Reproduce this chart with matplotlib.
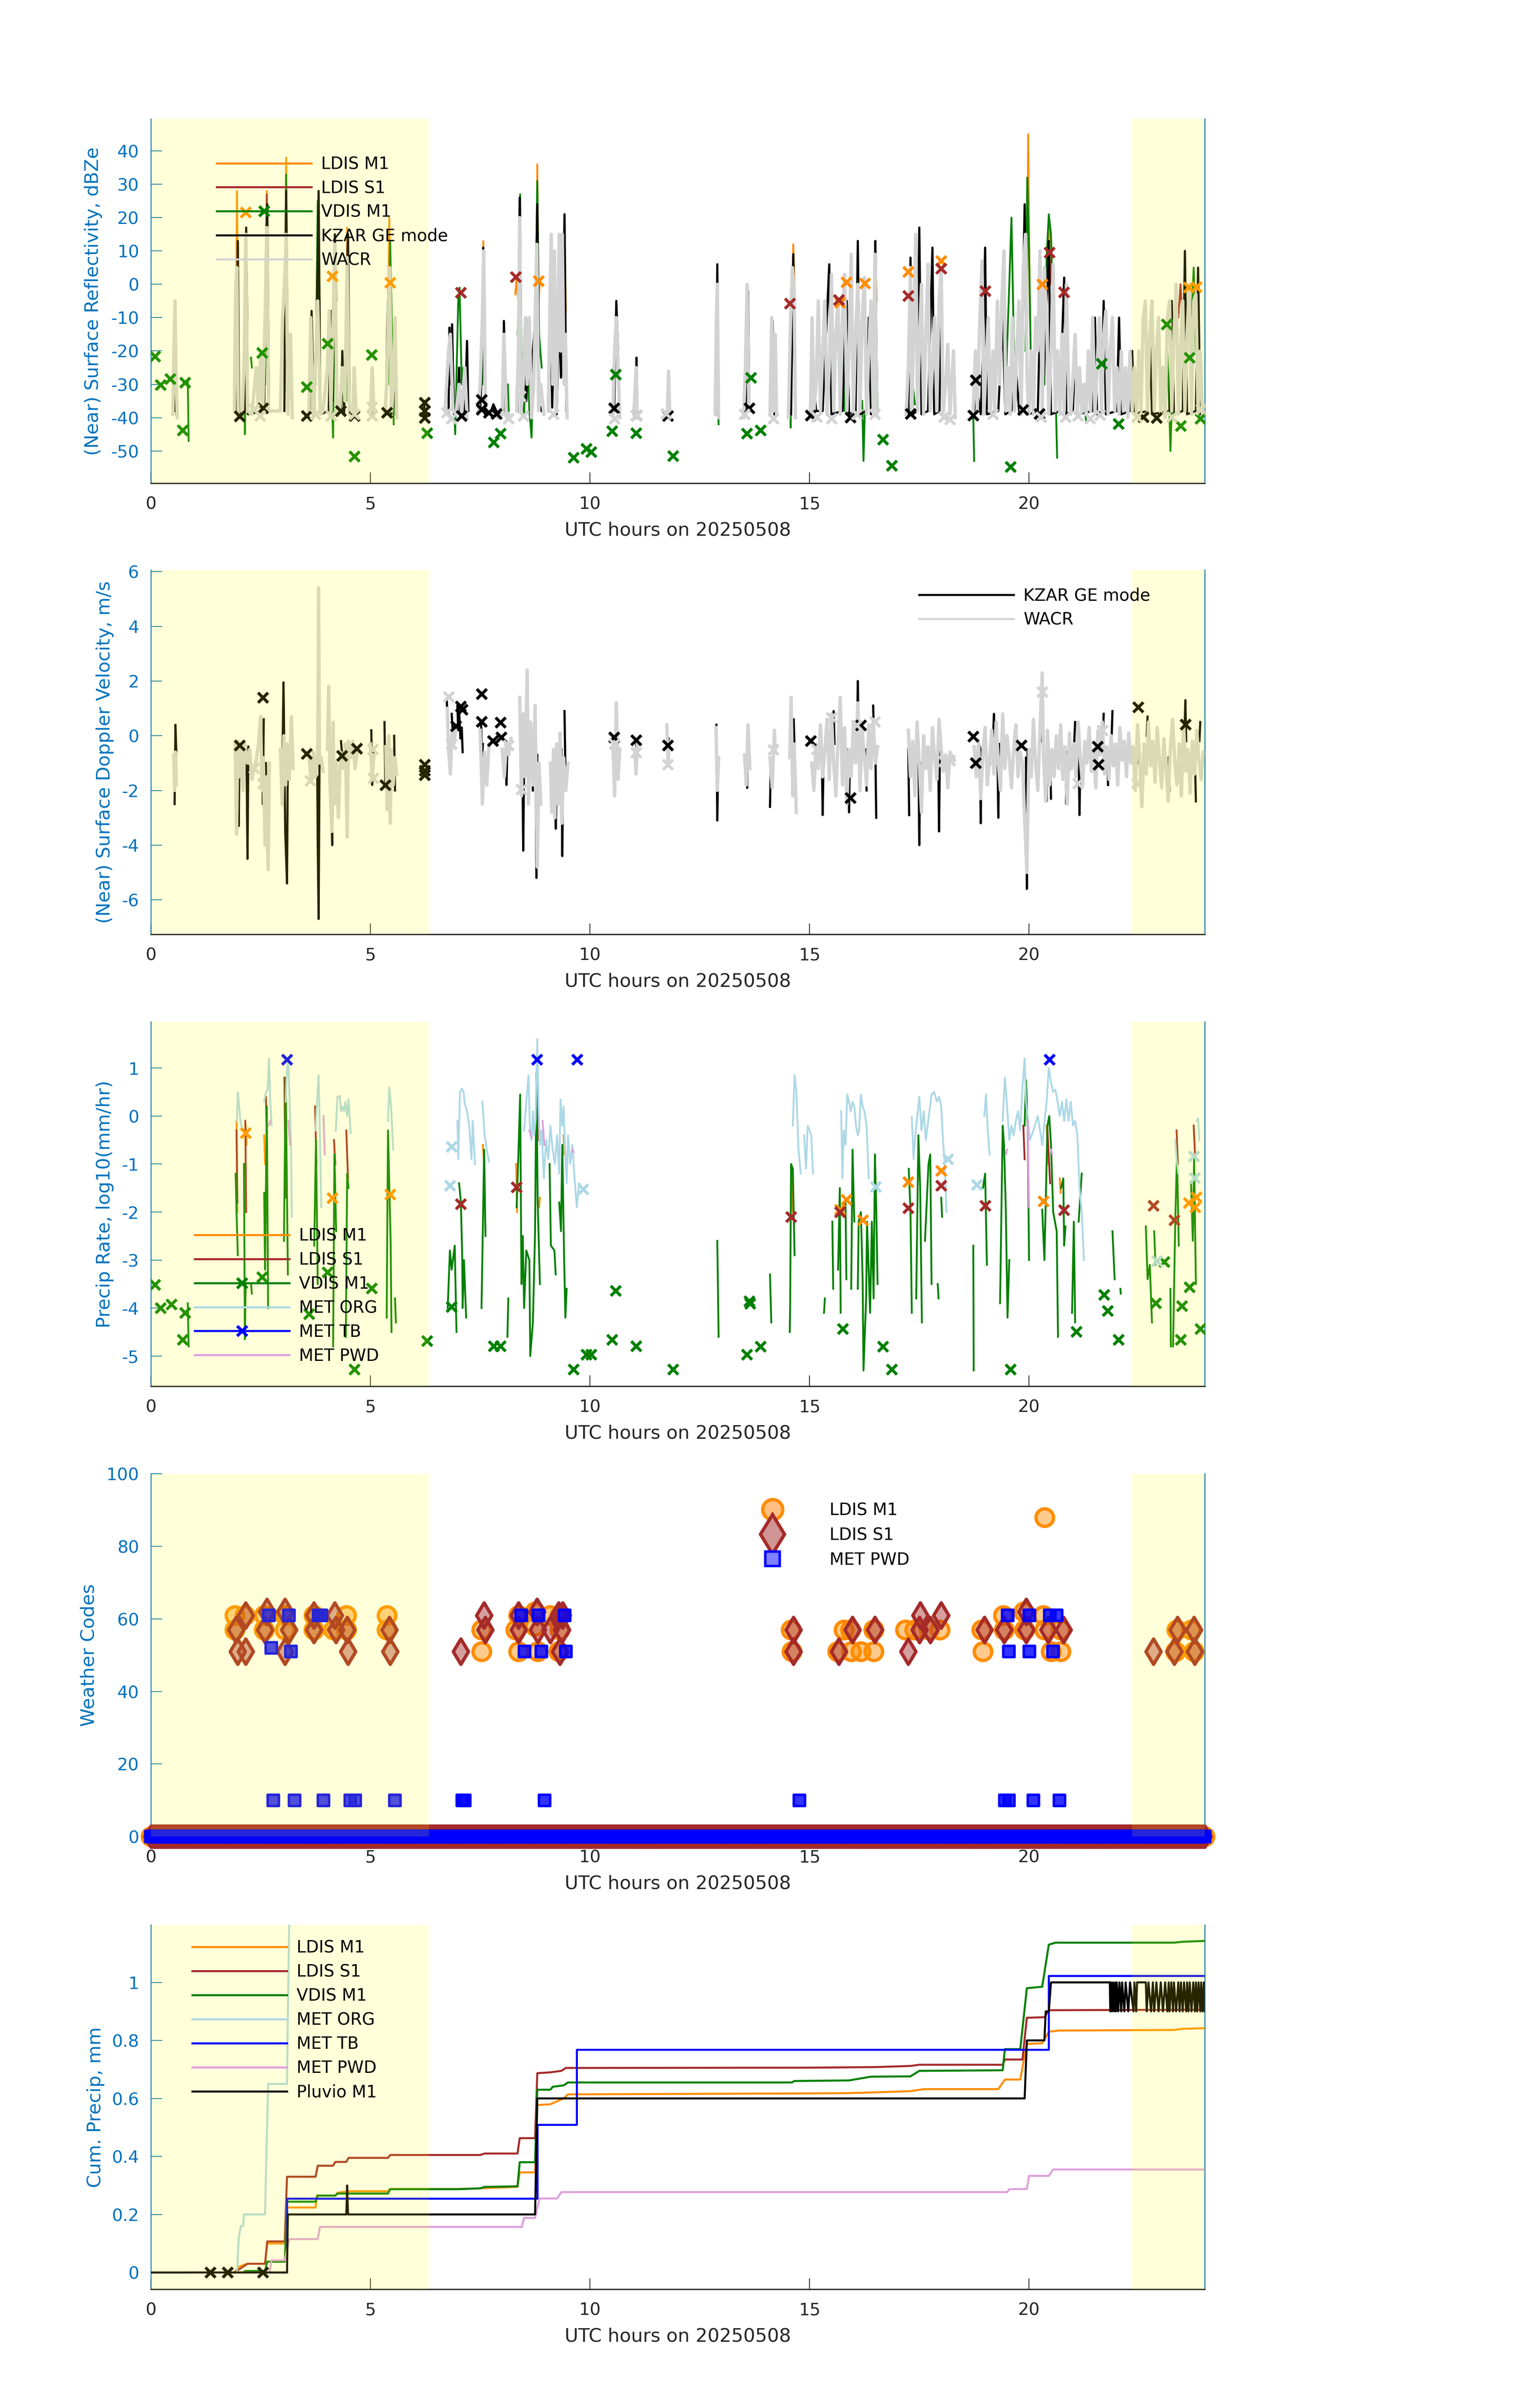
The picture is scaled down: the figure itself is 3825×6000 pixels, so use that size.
import numpy as np
import matplotlib
matplotlib.use("Agg")
import matplotlib.pyplot as plt
from matplotlib.lines import Line2D
from matplotlib.ticker import FuncFormatter

plt.rcParams['font.family'] = ['DejaVu Sans']
plt.rcParams['axes.unicode_minus'] = False

# ---------------- colours / labels ----------------
C_LM1 = '#FF8C00'; C_LS1 = '#A52A2A'; C_VD = '#008000'; C_KZ = '#000000'
C_WA = '#D3D3D3'; C_ORG = '#ADD8E6'; C_TB = '#0000FF'; C_PWD = '#DDA0DD'; C_PLU = '#000000'
AXBLUE = '#0072BD'; DARK = '#262626'
XLABEL = 'UTC hours on 20250508'
hour_ticks = [0, 5, 10, 15, 20]
night_spans = [(0.0, 6.33), (22.35, 24.0)]

# ================= Panel 1 : reflectivity (dBZe) =================
refl_ldis_m1 = [
    [(1.93,-20),(1.96,28),(1.99,-10)], [(2.6,-15),(2.64,28),(2.67,-20)],
    [(3.05,-20),(3.08,38),(3.11,-5)], [(4.45,-20),(4.47,17),(4.5,-10)],
    [(5.4,-10),(5.43,20),(5.46,-5)], [(7.55,-10),(7.57,13),(7.6,-5)],
    [(8.3,-3),(8.33,2),(8.36,-4)], [(8.78,-10),(8.8,36),(8.83,-5),(8.86,1)],
    [(9.4,-10),(9.42,21),(9.45,-8)], [(14.6,-10),(14.63,12),(14.66,0)],
    [(16.45,-10),(16.5,9),(16.53,-5)], [(19.95,-10),(19.98,45),(20.02,-10)],
    [(20.4,-10),(20.45,19),(20.5,12),(20.55,-5)]]
refl_ldis_s1 = [
    [(2.14,-15),(2.17,17),(2.2,-10)], [(2.6,-15),(2.64,27),(2.67,-10)],
    [(4.17,-10),(4.2,12),(4.23,-5)], [(4.45,-10),(4.48,13),(4.5,-8)],
    [(8.78,-5),(8.8,20),(8.83,-5)], [(20.4,-5),(20.46,10),(20.5,0)],
    [(23.4,-10),(23.45,0),(23.5,-12)]]
refl_vdis = [
    [(0.84,-29),(0.86,-47)], [(1.93,-10),(1.96,-25),(2.0,-40)],
    [(2.12,-15),(2.14,-45),(2.16,-30)], [(2.28,-22),(2.3,-25)],
    [(2.6,-30),(2.65,15),(2.68,-35)], [(3.04,-30),(3.08,33),(3.12,-30)],
    [(3.75,-30),(3.8,25),(3.85,-35)], [(4.13,-38),(4.15,-46),(4.18,-5),(4.22,-30)],
    [(4.45,-35),(4.48,10),(4.52,-32)], [(5.4,-30),(5.45,13),(5.5,-20),(5.53,-42)],
    [(6.85,-30),(6.88,-25),(6.93,-45),(7.0,-5),(7.03,-1),(7.08,-30),(7.12,-25)],
    [(7.55,-30),(7.58,8),(7.62,-30)], [(8.1,-40),(8.13,-30),(8.15,-38)],
    [(8.35,-15),(8.38,-8),(8.41,27),(8.44,-20),(8.5,-40),(8.55,-10),(8.62,-38),(8.67,-46),
     (8.7,-30),(8.75,-20),(8.8,31),(8.84,-15),(8.9,-25)],
    [(12.9,-30),(12.93,-42)], [(14.55,-30),(14.57,-43),(14.6,-10),(14.63,5),(14.66,-20)],
    [(15.7,-39),(15.75,-10),(15.8,-38)], [(16.2,-35),(16.23,-53),(16.26,-38)],
    [(16.4,-38),(16.45,-20),(16.5,5),(16.55,-38)], [(17.3,-38),(17.35,-30),(17.4,-36)],
    [(18.73,-40),(18.75,-53)], [(19.45,-38),(19.55,0),(19.6,20),(19.65,-15),(19.7,-35)],
    [(19.92,-20),(19.96,32),(20.0,10),(20.05,-30)],
    [(20.35,-30),(20.4,8),(20.45,21),(20.5,15),(20.55,-10),(20.6,-30),(20.64,-52)],
    [(21.25,-35),(21.3,-41)], [(23.15,-20),(23.2,-40),(23.22,-50),(23.25,-38)],
    [(23.7,-10),(23.75,5),(23.8,-20)]]
refl_kzar = [
    [(0.54,-38),(0.56,-18),(0.58,-39)],
    [(1.95,-38),(1.98,13),(2.01,-39),(2.14,-38),(2.17,17),(2.21,-39),(2.58,-38),(2.62,10),(2.65,24),(2.69,-37)],
    [(3.04,-38),(3.08,28),(3.13,-39)],
    [(3.62,-38),(3.66,-8),(3.72,-39),(3.78,-10),(3.82,28),(3.86,-39),(4.05,-38),(4.1,-8),(4.14,-35),
     (4.19,15),(4.23,-39),(4.33,-38),(4.36,-20),(4.4,-39),(4.45,-10),(4.49,15),(4.53,-39)],
    [(5.03,-38),(5.05,-27),(5.07,-39)], [(5.35,-39),(5.38,-15),(5.43,5),(5.47,-39),(5.55,-25),(5.58,-39)],
    [(6.22,-35),(6.24,-40)],
    [(6.78,-39),(6.8,-13),(6.83,-30),(6.86,-12),(6.9,-39),(6.98,-38),(7.02,-25),(7.05,-40),(7.1,-32),
     (7.15,-39),(7.2,-17),(7.23,-38)],
    [(7.5,-38),(7.53,-28),(7.57,11),(7.61,-39),(7.75,-38),(7.8,-36),(7.9,-39),(8.02,-38),(8.04,-11),(8.08,-39)],
    [(8.35,-38),(8.4,26),(8.44,-38),(8.5,-25),(8.55,-35),(8.6,-15),(8.65,-39),(8.7,-20),(8.76,-10),
     (8.8,24),(8.84,-36),(8.9,-38)],
    [(9.06,-38),(9.1,-8),(9.14,-37),(9.2,-5),(9.24,-39),(9.3,-10),(9.34,-28),(9.38,-20),(9.42,21),(9.46,-38)],
    [(10.55,-38),(10.6,-5),(10.64,-20),(10.67,-39)], [(11.04,-38),(11.06,-22),(11.08,-39)],
    [(11.77,-39),(11.79,-30),(11.8,-40)], [(12.87,-39),(12.9,6),(12.93,-40)],
    [(13.55,-38),(13.6,-2),(13.63,-37)], [(14.12,-38),(14.16,-11),(14.2,-39)],
    [(14.58,-39),(14.63,9),(14.67,-40)],
    [(15.05,-38),(15.1,-30),(15.15,-38),(15.3,-38),(15.45,6),(15.5,-39),(15.75,-38),(15.85,-5),(15.9,-39),
     (16.05,-38),(16.1,13),(16.15,-39),(16.3,-38),(16.35,-10),(16.4,-39),(16.48,-20),(16.5,13),(16.54,-39)],
    [(17.25,-39),(17.3,8),(17.35,-39),(17.45,-38),(17.5,17),(17.55,-39),(17.7,-38),(17.8,11),(17.84,-39),
     (17.96,-38),(18.0,5),(18.04,-39)],
    [(18.75,-38),(18.8,-30),(18.9,-39),(18.95,-20),(19.0,11),(19.04,-39),(19.3,-38),(19.4,-10),(19.46,-39),
     (19.6,-38),(19.7,-25),(19.78,-39),(19.86,-5),(19.9,24),(19.95,-30),(20.0,-39),(20.2,-38),(20.25,-10),
     (20.3,-38),(20.4,-5),(20.45,13),(20.5,-39),(20.7,-38),(20.8,2),(20.85,-39),(21.0,-38),(21.05,-20),
     (21.1,-39),(21.45,-38),(21.5,-10),(21.55,-39),(21.65,-38),(21.7,-5),(21.75,-39),(22.0,-38),(22.05,-10),
     (22.1,-39),(22.3,-38),(22.35,-20),(22.4,-39),(22.7,-38),(22.75,-15),(22.8,-39),(23.2,-38),(23.25,-5),
     (23.3,-39),(23.5,-38),(23.55,10),(23.6,-39),(23.8,-38),(23.85,5),(23.9,-39)]]
refl_wacr = [
    [(0.50,-39),(0.53,-15),(0.55,-5),(0.57,-25),(0.60,-40)],
    [(1.90,-38),(1.93,-2),(1.96,5),(1.99,-40),(2.08,-40),(2.13,-20),(2.16,15),(2.2,-38),(2.3,-39),(2.4,-25),
     (2.45,-37),(2.5,-20),(2.55,-38),(2.6,-10),(2.64,17),(2.68,-38),(2.95,-38),(3.0,-10),(3.06,5),(3.08,15),
     (3.12,-39),(3.18,-15),(3.22,-40)],
    [(3.6,-38),(3.64,-10),(3.7,-40),(3.76,-20),(3.8,-5),(3.86,-39),(3.92,-38),(4.02,-25),(4.06,-8),(4.1,-38),
     (4.15,-10),(4.19,12),(4.24,-39),(4.3,-38),(4.36,-25),(4.42,-35),(4.47,8),(4.52,-39),(4.6,-38),(4.63,-25),(4.68,-40)],
    [(5.0,-39),(5.04,-25),(5.08,-38)],
    [(5.33,-39),(5.37,-30),(5.41,-10),(5.44,5),(5.48,-38),(5.52,-30),(5.56,-10),(5.6,-40)],
    [(6.7,-38),(6.78,-20),(6.82,-15),(6.88,-38),(6.95,-39),(7.02,-30),(7.08,-39),(7.15,-25),(7.2,-40)],
    [(7.45,-39),(7.5,-30),(7.55,-10),(7.58,10),(7.62,-38),(7.7,-39),(7.8,-38),(7.9,-40),(8.0,-39),(8.04,-15),
     (8.1,-40),(8.15,-39)],
    [(8.33,-38),(8.37,-20),(8.4,20),(8.43,-38),(8.48,-30),(8.53,-10),(8.57,-30),(8.62,-10),(8.67,-40),
     (8.72,-30),(8.76,-5),(8.79,12),(8.83,-38),(8.88,-30),(8.95,-39)],
    [(9.05,-38),(9.09,-5),(9.12,15),(9.15,-30),(9.19,10),(9.23,-38),(9.27,-10),(9.3,15),(9.33,-20),(9.37,15),
     (9.41,-30),(9.44,-15),(9.48,-40)],
    [(10.52,-39),(10.56,-20),(10.6,-10),(10.64,-25),(10.68,-40)], [(11.0,-39),(11.05,-25),(11.08,-40)],
    [(11.76,-40),(11.79,-26),(11.82,-40)], [(12.85,-39),(12.88,-10),(12.9,0),(12.93,-40)],
    [(13.5,-40),(13.54,-25),(13.58,0),(13.62,-38)], [(14.1,-39),(14.14,-10),(14.18,-38),(14.22,-15),(14.25,-39)],
    [(14.52,-40),(14.57,-10),(14.61,5),(14.65,-2),(14.68,-40)],
    [(15.02,-39),(15.06,-10),(15.1,-38),(15.15,-30),(15.2,-5),(15.25,-38),(15.3,-20),(15.35,-5),(15.4,-39),
     (15.45,-25),(15.5,3),(15.55,-38),(15.6,-15),(15.65,-5),(15.7,-39),(15.75,-10),(15.8,3),(15.85,-38),
     (15.9,-20),(15.95,9),(16.0,-39),(16.05,-15),(16.1,0),(16.15,-38),(16.2,-10),(16.25,2),(16.3,-39),
     (16.35,-20),(16.4,-5),(16.45,-38),(16.49,9),(16.53,-39)],
    [(17.2,-39),(17.25,-25),(17.3,5),(17.33,-38),(17.38,-10),(17.42,15),(17.46,-38),(17.5,-20),(17.55,0),
     (17.6,-39),(17.65,-15),(17.7,6),(17.75,-38),(17.8,-25),(17.85,-10),(17.9,-38),(17.95,-5),(18.0,5),
     (18.04,-39),(18.1,-30),(18.15,-18),(18.2,-39),(18.28,-20),(18.32,-40)],
    [(18.72,-39),(18.78,-20),(18.82,-38),(18.88,-10),(18.93,7),(18.97,-39),(19.02,-25),(19.07,-10),(19.12,-38),
     (19.18,-20),(19.22,-38),(19.28,-5),(19.33,-30),(19.38,-5),(19.43,10),(19.47,-38),(19.52,-25),(19.57,-39),
     (19.62,-10),(19.67,-38),(19.72,-20),(19.77,-5),(19.82,-39),(19.87,5),(19.92,15),(19.96,-30),(20.0,-39),
     (20.05,-20),(20.1,-39),(20.15,-10),(20.2,-20),(20.25,10),(20.3,-38),(20.35,5),(20.4,-10),(20.45,-39),
     (20.5,-20),(20.55,6),(20.6,-38),(20.65,-20),(20.7,-39),(20.75,-15),(20.8,-38),(20.85,0),(20.9,-30),
     (20.95,-39),(21.0,-28),(21.05,-15),(21.1,-39),(21.15,-25),(21.2,-38),(21.25,-30),(21.3,-39),(21.35,-20),
     (21.4,-38),(21.45,-10),(21.5,-39),(21.55,-25),(21.6,-10),(21.65,-38),(21.7,-15),(21.75,-8),(21.8,-39),
     (21.85,-20),(21.9,-10),(21.95,-38),(22.0,-25),(22.05,-39),(22.1,-20),(22.15,-38),(22.2,-25),(22.25,-40),
     (22.3,-20),(22.35,-38),(22.4,-25),(22.45,-39),(22.5,-20),(22.55,-38),(22.6,-10),(22.65,-5),(22.7,-39),
     (22.75,-15),(22.8,-5),(22.85,-38),(22.9,-20),(22.95,-10),(23.0,-39),(23.05,-25),(23.1,-40),(23.15,-10),
     (23.2,-5),(23.25,-38),(23.3,-15),(23.35,0),(23.4,-39),(23.45,-20),(23.5,-5),(23.55,-38),(23.6,-15),
     (23.65,0),(23.7,-39),(23.75,-5),(23.8,-3),(23.85,-38),(23.9,-20),(23.95,-39),(24.0,-38)]]
# isolated samples (drawn as x)
refl_ldis_m1_pts = [(2.16,21.6),(4.13,2.5),(5.45,0.5),(8.83,1),(15.69,-5.5),(15.84,0.7),(16.26,0.3),
                    (17.25,3.8),(18.0,7),(20.3,0),(23.64,-0.9),(23.81,-0.8)]
refl_ldis_s1_pts = [(7.06,-2.5),(8.31,2.2),(14.55,-5.7),(15.67,-4.6),(17.25,-3.5),(18.0,4.7),(19.0,-2),
                    (20.79,-2.4),(20.46,9.5)]
refl_vdis_pts = [(0.09,-21.6),(0.22,-30.2),(0.44,-28.4),(0.78,-29.5),(0.72,-43.8),(2.53,-20.5),(3.55,-30.8),
                 (4.02,-17.8),(4.63,-51.6),(5.03,-21.1),(6.29,-44.6),(7.81,-47.4),(7.96,-44.7),(9.62,-52),
                 (9.92,-49.3),(10.03,-50.3),(10.5,-44),(10.58,-27),(11.05,-44.6),(11.89,-51.5),(13.57,-44.7),
                 (13.66,-28),(13.88,-43.8),(16.67,-46.5),(16.87,-54.4),(19.58,-54.7),(21.65,-23.8),
                 (22.04,-41.9),(23.13,-12),(23.45,-42.5),(23.65,-22),(23.9,-40.3)]
refl_kzar_pts = [(2.02,-39.6),(2.55,-37.2),(3.55,-39.5),(4.32,-38),(4.63,-39.5),(5.37,-38.5),(6.23,-35.5),
                 (6.23,-38),(6.23,-40),(7.07,-39.5),(7.53,-34.6),(7.53,-37.5),(7.7,-38.5),(7.87,-38.8),
                 (10.55,-37.2),(11.06,-39.3),(11.77,-39.5),(13.63,-37.2),(15.03,-39.3),(15.93,-39.9),
                 (17.3,-38.8),(18.73,-39.3),(18.78,-28.7),(19.86,-37.7),(20.24,-38.8),(22.6,-39.8),(22.9,-40)]
refl_wacr_pts = [(2.35,-37.5),(2.49,-39.5),(3.75,-39),(4.1,-39.5),(4.63,-39),(5.04,-36.8),(5.04,-39.4),
                 (6.74,-38.5),(6.85,-40.3),(8.14,-40.3),(8.48,-39.5),(8.42,-33.5),(9.17,-39),(10.56,-40.3),
                 (11.06,-39.3),(11.74,-38.8),(13.52,-39),(14.18,-40.3),(15.16,-39.8),(15.5,-40.3),(16.08,-39),
                 (16.49,-39),(18.06,-39.8),(18.2,-40.5),(19.18,-39),(20.27,-39.8),(20.83,-39.8),(21.11,-39.5),
                 (21.39,-40.3),(21.62,-39.2),(22.46,-39.8),(23.25,-39.8),(23.92,-37.5)]

# ================= Panel 2 : Doppler velocity (m/s) =================
vel_kzar = [
    [(0.54,-2.5),(0.56,0.4),(0.58,-0.7)],
    [(1.98,-0.2),(2.0,-3.3),(2.02,-0.5)], [(2.18,-1.0),(2.2,-4.5),(2.22,-0.4)], [(2.53,0.1),(2.55,-2.5),(2.57,0.6)],
    [(2.62,-1.0),(2.64,-3.8),(2.67,-4.8),(2.69,-1.5)],
    [(3.0,-0.5),(3.02,1.95),(3.06,-3.5),(3.1,-5.4),(3.12,-0.5)],
    [(3.7,-1.0),(3.72,-1.2)], [(3.79,-1.5),(3.8,-3.9),(3.82,-6.7),(3.84,-1.0)],
    [(4.03,-0.3),(4.05,0.6),(4.07,-1.0)], [(4.1,-2.2),(4.13,-4.0),(4.15,-0.8)], [(4.33,-0.2),(4.35,-0.6)],
    [(4.43,-0.5),(4.45,-2.8),(4.47,-0.4)],
    [(5.02,0.2),(5.04,-1.8),(5.06,-0.6)], [(5.32,0.5),(5.34,-1.8),(5.36,-0.5)], [(5.54,0.0),(5.56,-2.0)],
    [(6.74,1.3),(6.76,0.2)], [(6.85,0.8),(6.87,0.3)],
    [(6.98,1.1),(7.0,0.2),(7.02,0.9),(7.05,-0.1),(7.08,0.3),(7.1,-0.6)],
    [(7.52,0.5),(7.54,-1.0),(7.56,-0.3)], [(8.08,-0.2),(8.1,-1.8),(8.12,-0.3)],
    [(8.46,-0.6),(8.48,-4.2),(8.5,-1.0)], [(8.58,0.2),(8.6,-0.5)], [(8.68,-0.4),(8.7,-2.0)],
    [(8.76,-0.5),(8.78,-5.2),(8.8,-0.7)],
    [(9.2,-1.5),(9.22,-3.4),(9.24,-2.0)], [(9.35,-0.5),(9.37,-4.4),(9.39,-1.0)], [(9.42,0.9),(9.44,-1.2)],
    [(10.55,-0.2),(10.58,0.0)], [(11.05,-0.2),(11.07,-0.8)], [(11.77,-0.3),(11.79,-0.1)],
    [(12.88,0.4),(12.9,-3.1),(12.92,-1.0)], [(13.58,-1.9),(13.6,0.1)],
    [(14.1,-2.6),(14.12,-1.0)], [(14.6,-1.3),(14.62,-2.0)], [(14.64,0.6),(14.66,-0.5)],
    [(15.28,-0.5),(15.3,-2.9),(15.32,-0.9)], [(15.53,0.1),(15.55,0.9),(15.57,-0.3)],
    [(15.88,-0.5),(15.9,-2.8),(15.92,-0.9)], [(16.08,-0.5),(16.1,2.0),(16.12,-0.2)], [(16.28,-0.5),(16.3,-2.0)],
    [(16.45,1.1),(16.47,-0.3)], [(16.5,-0.5),(16.52,-3.0)],
    [(17.25,-0.5),(17.27,-2.9)], [(17.48,-0.3),(17.5,-4.0),(17.52,-1.0)], [(17.78,-0.5),(17.8,0.2)],
    [(17.93,-0.4),(17.95,-3.5),(17.97,-0.5)],
    [(18.88,-0.4),(18.9,-3.2),(18.92,-0.5)], [(19.18,-0.2),(19.2,0.8),(19.22,-0.4)],
    [(19.28,-0.5),(19.3,-3.0),(19.32,-0.3)], [(19.93,-0.8),(19.95,-5.6),(19.97,-0.5)],
    [(20.28,-0.2),(20.3,1.0),(20.32,-0.4)], [(20.38,-0.8),(20.4,-2.4),(20.42,-0.5)], [(20.48,-0.6),(20.5,-2.3)],
    [(20.83,-0.7),(20.85,-2.5),(20.87,-0.6)], [(21.03,-0.2),(21.05,0.5)], [(21.13,-0.8),(21.15,-2.9),(21.17,-0.6)],
    [(21.68,-0.2),(21.7,0.8)], [(21.78,-0.6),(21.8,-1.8)], [(21.88,-0.1),(21.9,0.9)], [(22.48,-0.5),(22.5,-1.0)],
    [(22.68,0.0),(22.7,0.7)], [(23.18,-0.8),(23.2,-2.0)], [(23.54,0.0),(23.56,1.3),(23.58,-0.2)],
    [(23.78,-1.0),(23.8,-2.4)], [(23.88,-0.2),(23.9,0.5)]]
vel_wacr = [
    [(0.52,-0.7),(0.54,-2.0),(0.56,-0.6),(0.58,-1.8)],
    [(1.92,-0.3),(1.95,-3.6),(1.98,-0.2),(2.02,-1.5),(2.05,-0.4),(2.1,-2.0),(2.14,-0.3),(2.2,-1.0),
     (2.25,-0.5),(2.3,-1.6),(2.35,-1.2),(2.4,-0.9),(2.45,-0.3),(2.5,0.7),(2.53,-2.0),(2.56,-0.8),
     (2.6,-4.0),(2.64,-1.5),(2.67,-4.9),(2.7,-1.0)],
    [(2.95,-0.5),(2.99,-2.5),(3.03,0.0),(3.07,-1.8),(3.1,-0.3),(3.15,-1.6),(3.2,0.7),(3.24,-1.2)],
    [(3.6,-0.7),(3.65,-1.7),(3.7,-0.6),(3.75,-1.5),(3.8,-0.5),(3.82,5.4),(3.84,-1.0),(3.88,-0.8),(3.92,-1.3)],
    [(4.02,-0.5),(4.05,1.8),(4.08,-1.8),(4.12,-3.5),(4.15,0.5),(4.18,-2.5),(4.22,-1.0),(4.27,-3.0),
     (4.32,-0.6),(4.38,-1.2),(4.43,-0.3),(4.47,-3.7),(4.5,-0.2),(4.55,-0.8),(4.6,-0.2),(4.65,-1.2),(4.7,-0.6)],
    [(5.0,-0.3),(5.04,-1.6),(5.08,-0.7)],
    [(5.35,-0.4),(5.38,-2.7),(5.42,0.0),(5.45,-3.2),(5.48,-0.5),(5.52,-1.8),(5.56,-0.8),(5.6,-1.4)],
    [(6.75,1.0),(6.78,-0.5),(6.82,-1.4),(6.86,0.2),(6.9,-0.3),(6.95,0.3)],
    [(7.5,0.2),(7.55,-2.5),(7.6,-0.6),(7.65,-1.8),(7.7,-0.3)],
    [(8.0,-0.5),(8.05,-1.5),(8.1,-0.2),(8.15,-0.7),(8.2,-0.1)],
    [(8.4,1.4),(8.44,-2.2),(8.48,0.8),(8.52,-1.5),(8.57,2.4),(8.6,-2.5),(8.65,0.5),(8.7,-1.8),(8.75,1.1),
     (8.8,-4.8),(8.84,-1.0),(8.88,-2.5)],
    [(9.1,-1.0),(9.13,-2.8),(9.17,-0.5),(9.2,-3.0),(9.24,-0.3),(9.28,-2.5),(9.32,0.1),(9.36,-3.2),
     (9.4,-0.8),(9.45,-2.0),(9.5,-1.0)],
    [(10.52,-0.2),(10.56,-2.2),(10.6,1.2),(10.64,-1.6),(10.68,-0.5)],
    [(11.02,-0.5),(11.05,-1.4),(11.08,-0.3)], [(11.75,0.4),(11.78,-1.1),(11.8,-0.3)],
    [(12.87,0.3),(12.9,-2.0),(12.93,-0.8)], [(13.52,-0.7),(13.56,-1.8),(13.6,0.4),(13.64,-1.2)],
    [(14.1,-0.8),(14.15,-1.9),(14.2,0.2),(14.22,-0.5)],
    [(14.55,-0.8),(14.58,1.4),(14.62,-2.2),(14.65,-0.3),(14.7,-2.8)],
    [(15.05,-1.0),(15.1,-2.0),(15.15,-0.3),(15.2,-1.2),(15.25,0.4),(15.3,-1.5),(15.35,-0.5),(15.4,0.6),
     (15.45,-1.6),(15.5,0.8),(15.55,-1.0),(15.6,-2.2),(15.65,-0.2),(15.7,1.4),(15.75,-1.8),(15.8,0.3),
     (15.85,-2.5),(15.9,-0.5),(15.95,-1.5),(16.0,0.5),(16.05,-1.0),(16.1,1.2),(16.15,-2.0),(16.2,0.2),
     (16.25,-0.8),(16.3,-1.8),(16.35,0.4),(16.4,-1.2),(16.45,0.6),(16.5,-1.0),(16.55,-0.4)],
    [(17.25,0.2),(17.3,-1.5),(17.35,-0.2),(17.4,-2.2),(17.45,0.5),(17.5,-1.0),(17.55,-2.8),(17.6,0.0),
     (17.65,-1.2),(17.7,-0.4),(17.75,-2.0),(17.8,0.3),(17.85,-0.8),(17.9,-1.6),(17.95,0.6),(18.0,-0.5),
     (18.05,-1.3),(18.1,-0.7),(18.15,-1.9),(18.2,-0.6),(18.3,-0.9)],
    [(18.75,-0.4),(18.8,-1.5),(18.85,-0.2),(18.9,-2.3),(18.95,-0.6),(19.0,0.3),(19.05,-1.8),(19.1,-0.9),
     (19.15,0.2),(19.2,-1.4),(19.25,0.5),(19.3,-1.0),(19.35,-2.0),(19.4,0.8),(19.45,-1.2),(19.5,0.0),
     (19.55,-0.8),(19.6,-1.9),(19.65,-0.5),(19.7,0.4),(19.75,-1.5),(19.8,-0.6),(19.85,-1.0),(19.9,-3.0),
     (19.95,-5.0),(20.0,-0.5),(20.05,-1.5),(20.1,0.6),(20.15,-1.0),(20.2,-2.0),(20.25,0.3),(20.3,2.3),
     (20.33,-0.8),(20.38,-2.4),(20.42,0.2),(20.47,-1.8),(20.52,-0.5),(20.57,-1.5),(20.62,0.0),(20.67,-1.2),
     (20.72,0.4),(20.77,-1.6),(20.82,-0.4),(20.87,-2.5),(20.92,0.1),(20.97,-1.2),(21.02,-0.3),(21.07,-1.5),
     (21.12,0.5),(21.17,-0.9),(21.22,-1.8),(21.27,-0.2),(21.32,-1.0),(21.37,0.3),(21.42,-1.3),(21.47,-0.5),
     (21.52,-1.9),(21.57,0.2),(21.62,-0.7),(21.67,0.5),(21.72,-1.4),(21.77,-0.4),(21.82,-1.6),(21.87,0.0),
     (21.92,-1.1),(21.97,-0.3),(22.02,-1.8),(22.07,0.3),(22.12,-0.9),(22.17,-0.2),(22.22,-1.5),(22.27,0.1),
     (22.32,-1.0),(22.37,-0.4),(22.42,-2.0),(22.47,0.4),(22.52,-0.8),(22.57,-2.6),(22.62,-0.3),(22.67,-1.4),
     (22.72,0.5),(22.77,-1.1),(22.82,-0.2),(22.87,-1.7),(22.92,0.3),(22.97,-0.9),(23.02,-1.9),(23.07,-0.1),
     (23.12,-1.2),(23.17,-2.4),(23.22,-0.4),(23.27,0.6),(23.32,-1.0),(23.37,-1.8),(23.42,-0.3),(23.47,-2.2),
     (23.52,0.4),(23.57,-1.3),(23.62,-0.5),(23.67,-2.1),(23.72,-0.2),(23.77,-1.4),(23.82,0.2),(23.87,-0.9),
     (23.92,-1.6),(23.97,-0.6)]]
vel_kzar_pts = [(2.55,1.39),(2.02,-0.35),(3.55,-0.65),(4.35,-0.73),(4.69,-0.46),(5.34,-1.8),(6.23,-1.05),
                (6.23,-1.27),(6.23,-1.43),(7.06,1.07),(7.09,0.95),(6.95,0.35),(7.53,1.53),(7.53,0.51),
                (7.79,-0.19),(7.96,0.49),(7.98,-0.05),(10.55,-0.05),(11.05,-0.16),(11.77,-0.35),(15.03,-0.19),
                (15.93,-2.27),(16.17,0.38),(18.73,-0.03),(18.78,-1.0),(19.82,-0.35),(21.56,-0.4),(21.58,-1.05),
                (22.48,1.05),(23.56,0.42)]
vel_wacr_pts = [(2.35,-1.19),(2.55,-1.75),(3.63,-1.64),(6.78,1.43),(6.85,-0.3),(8.14,-0.35),(8.44,-1.97),
                (10.56,-0.3),(11.05,-0.62),(11.77,-1.05),(5.05,-0.5),(5.06,-1.55),(14.18,-0.51),(15.16,-0.5),
                (15.5,0.67),(16.08,0.38),(16.49,0.51),(18.06,-0.94),(18.2,-0.9),(19.2,-0.9),(20.3,1.6),
                (20.83,-1.1),(21.11,-1.75),(21.67,0.19),(22.46,-1.75)]

# ================= Panel 3 : precip rate log10(mm/hr) =================
rate_ldis_m1 = [[(1.95,-0.1),(1.97,-2.0)], [(2.16,-0.2),(2.18,-0.6)], [(2.58,-0.4),(2.6,-1.0)],
                [(7.56,-0.6),(7.59,-1.0)], [(8.32,-1.0),(8.34,-2.0)], [(8.84,-1.9),(8.86,-1.7)],
                [(9.4,-0.4),(9.42,-0.8)], [(14.6,-1.3),(14.62,-2.0)], [(20.4,-0.2),(20.44,-1.0)],
                [(20.7,-1.3),(20.72,-1.6)]]
rate_ldis_s1 = [[(1.95,-0.3),(1.97,-1.8)], [(2.15,-0.1),(2.17,-2.0)], [(2.62,0.4),(2.65,-1.0)],
                [(3.04,0.8),(3.07,-1.7)], [(3.74,0.2),(3.77,-1.0)], [(4.17,-0.5),(4.2,-1.0)],
                [(4.45,-0.3),(4.49,-1.3)], [(8.78,0.9),(8.81,-0.5)], [(19.87,-0.2),(19.9,-0.9)],
                [(20.42,-0.3),(20.48,-1.4)], [(23.36,-0.3),(23.39,-1.0)], [(23.75,-0.2),(23.78,-0.8)]]
rate_vdis = [
    [(0.84,-3.9),(0.86,-4.8)], [(1.93,-1.2),(1.95,-2.0),(1.98,-2.9)], [(2.12,-1.0),(2.14,-4.65),(2.16,-3.5)],
    [(2.28,-3.5),(2.3,-3.7)], [(2.58,-1.6),(2.6,-3.2),(2.64,0.2),(2.67,-4.0)], [(3.03,-2.6),(3.07,0.8),(3.12,-3.3)],
    [(3.72,-2.7),(3.76,-0.5),(3.8,-3.5)], [(4.15,-4.8),(4.18,-0.8),(4.22,-2.4)], [(4.44,-4.6),(4.47,-1.2),(4.5,-1.5)],
    [(5.37,-4.2),(5.4,-0.3),(5.46,-2.6),(5.48,-4.5)], [(5.56,-3.8),(5.58,-4.3)],
    [(6.76,-4.0),(6.81,-2.8),(6.85,-3.2),(6.92,-2.7),(6.96,-4.5)],
    [(7.02,-1.4),(7.06,-1.8),(7.09,-2.9),(7.1,-4.0),(7.13,-3.0),(7.18,-4.2)],
    [(7.53,-4.0),(7.59,-0.7),(7.62,-2.5)], [(8.12,-4.6),(8.14,-3.8)],
    [(8.33,-1.9),(8.37,-0.8),(8.41,0.45),(8.44,-3.5),(8.47,-2.5),(8.5,-4.0),(8.55,-2.8),(8.62,-3.0),
     (8.64,-5.0),(8.7,-4.3),(8.75,-2.4),(8.78,0.85),(8.81,-1.8),(8.86,-3.5)],
    [(9.08,-1.0),(9.11,-2.7),(9.19,-2.8),(9.22,-3.3)],
    [(9.3,-1.8),(9.34,-2.4),(9.37,-0.6),(9.41,-2.9),(9.44,-4.2),(9.47,-3.6)],
    [(12.9,-2.6),(12.93,-4.6)], [(14.1,-3.3),(14.13,-4.3)],
    [(14.55,-4.5),(14.56,-3.9),(14.58,-1.0),(14.62,-1.1),(14.66,-2.9)],
    [(15.33,-4.1),(15.35,-3.8)], [(15.52,-2.2),(15.54,-3.6)], [(15.65,-3.2),(15.69,-1.5),(15.71,-4.1)],
    [(15.82,-1.8),(15.84,-3.4)], [(15.95,-3.6),(15.98,-0.7),(16.02,-2.2)],
    [(16.1,-3.6),(16.12,-2.2),(16.17,-2.0),(16.21,-3.4),(16.23,-5.3),(16.29,-3.8),(16.31,-2.2),(16.38,-4.1),
     (16.42,-2.2),(16.46,-3.8),(16.49,-0.8),(16.52,-1.9),(16.55,-3.5)],
    [(17.26,-1.1),(17.3,-2.0),(17.33,-4.1)], [(17.43,-3.8),(17.48,-0.4),(17.52,-1.5),(17.56,-4.3)],
    [(17.63,-2.6),(17.71,-1.0),(17.75,-0.8),(17.78,-3.5)], [(17.92,-3.5),(17.94,-3.8)], [(18.0,-1.7),(18.02,-2.1)],
    [(18.73,-2.7),(18.74,-5.3)], [(18.95,-1.5),(19.0,-1.2),(19.04,-3.1)],
    [(19.34,-3.9),(19.4,-0.2),(19.43,-0.6),(19.47,-1.9),(19.51,-4.2),(19.55,-3.0)],
    [(19.9,-0.2),(19.93,0.75),(19.97,-0.2),(20.0,-3.0)],
    [(20.3,-1.95),(20.35,-3.0),(20.42,-0.2),(20.46,0.0),(20.5,-0.6),(20.55,-2.0),(20.63,-2.4),(20.66,-4.6)],
    [(20.73,-1.5),(20.78,-1.3),(20.8,-2.7),(20.83,-2.3)], [(20.98,-4.1),(21.02,-2.2),(21.05,-4.3)],
    [(21.13,-2.2),(21.2,-1.2)], [(21.9,-2.4),(21.95,-3.4)], [(22.08,-3.6),(22.09,-3.7)],
    [(22.66,-2.3),(22.7,-3.4),(22.75,-3.1),(22.8,-4.3)], [(22.85,-2.4),(22.88,-3.1)],
    [(23.22,-3.6),(23.23,-4.8)], [(23.28,-4.8),(23.33,-2.2),(23.37,-0.8),(23.41,-2.7)],
    [(23.69,-1.4),(23.73,-2.6),(23.76,-0.9),(23.8,-3.5)]]
rate_met_org = [
    [(1.96,-0.1),(1.98,0.5),(2.01,0.2),(2.04,-0.1),(2.08,-0.3)],
    [(2.58,0.3),(2.62,0.5),(2.66,0.55),(2.69,1.2),(2.72,0.3),(2.75,-0.2)],
    [(3.07,0.3),(3.1,1.0),(3.13,1.15),(3.16,0.3),(3.19,-0.5),(3.21,-2.1)],
    [(3.75,-0.3),(3.79,0.4),(3.82,0.85),(3.85,-0.4),(3.88,-1.9)],
    [(4.21,-0.3),(4.25,0.4),(4.3,0.42),(4.33,0.1),(4.36,0.2),(4.4,0.1),(4.43,0.3),(4.47,0.0),(4.5,0.35),(4.55,-0.35)],
    [(5.4,-0.1),(5.43,0.6),(5.47,0.2),(5.52,-0.7)],
    [(6.98,-0.1),(7.0,-0.9),(7.04,0.5),(7.08,0.57),(7.12,0.5),(7.15,0.25),(7.2,0.1),(7.25,-0.2),(7.3,-0.9),
     (7.33,-0.1),(7.38,-1.0)],
    [(7.55,0.3),(7.6,-0.4),(7.65,-0.7),(7.7,-0.95)],
    [(8.5,-0.3),(8.55,0.3),(8.6,0.85),(8.63,-0.2),(8.67,-0.5),(8.7,0.1),(8.73,-0.4),(8.76,-0.1),(8.8,1.6),
     (8.83,0.2),(8.86,-0.6),(8.9,-0.3),(8.95,-1.3),(9.0,-0.5),(9.05,-0.9),(9.1,-0.2),(9.15,-0.7),(9.2,-1.0),
     (9.25,-0.4),(9.3,-1.2),(9.33,0.35),(9.37,-0.2),(9.4,0.2),(9.43,-0.6),(9.47,-1.4),(9.5,-0.4),(9.55,-1.0),
     (9.6,-0.6),(9.65,-1.3),(9.7,-1.9),(9.75,-1.4),(9.82,-1.5)],
    [(14.62,-0.2),(14.66,0.85),(14.7,0.5),(14.75,-0.7),(14.8,-1.2)],
    [(14.88,-0.4),(14.92,-1.1),(14.96,-0.2),(15.0,-0.3),(15.04,-0.4),(15.08,-1.2)],
    [(15.72,0.1),(15.75,-1.3),(15.78,-0.3),(15.82,-0.6),(15.86,0.45),(15.9,0.3),(15.94,0.1),(15.98,0.3),
     (16.02,0.2),(16.06,-0.2),(16.1,-0.4),(16.13,-0.3),(16.17,0.45),(16.21,0.2),(16.25,0.1),(16.3,-0.2),(16.35,-1.3)],
    [(17.33,-0.02),(17.37,-0.9),(17.42,-0.3),(17.5,0.4),(17.55,-0.3),(17.6,0.1),(17.65,-0.5),(17.78,0.45),
     (17.84,0.5),(17.9,0.3),(17.95,0.4),(18.0,0.2),(18.04,-0.5),(18.08,-1.0),(18.12,-2.0)],
    [(18.98,0.0),(19.02,0.45),(19.06,-0.3),(19.1,-0.8)],
    [(19.4,-0.1),(19.45,0.8),(19.5,0.2),(19.55,-0.5),(19.6,-0.2),(19.65,-0.4),(19.7,-0.1),(19.75,0.1),
     (19.8,-0.3),(19.85,0.6),(19.9,1.2),(19.93,0.3),(19.97,0.0),(20.02,-0.5),(20.1,-0.3),(20.2,0.0),(20.3,-0.6),
     (20.4,0.3),(20.45,1.0),(20.5,0.7),(20.55,0.5),(20.6,0.55),(20.65,0.3),(20.7,0.0),(20.75,0.3),(20.8,-0.1),
     (20.85,0.35),(20.9,-0.1),(20.95,0.3),(21.0,-0.2),(21.05,-0.1),(21.1,-0.4),(21.15,-1.5),(21.2,-2.0),(21.25,-3.0)],
    [(23.33,-0.5),(23.36,-0.9),(23.4,-1.2)], [(23.82,-0.1),(23.85,-0.05),(23.88,-0.5)]]
rate_met_pwd = [[(2.68,-0.2),(2.72,-0.1)], [(3.13,-0.1),(3.17,-0.6)], [(3.93,0.0),(3.96,-0.8)],
                [(8.62,-0.3),(8.67,-0.45)], [(8.92,-0.1),(8.96,-0.6)], [(9.6,-0.7),(9.63,-0.75)],
                [(19.47,-0.8),(19.5,-0.7)], [(19.97,-0.1),(20.0,-1.9)], [(20.5,-0.7),(20.53,-0.8)]]
rate_ldis_m1_pts = [(2.16,-0.35),(4.13,-1.71),(5.45,-1.63),(15.84,-1.74),(15.69,-1.95),(16.21,-2.17),
                    (17.25,-1.37),(18.0,-1.14),(20.33,-1.77),(23.64,-1.81),(23.81,-1.69),(23.78,-1.9)]
rate_ldis_s1_pts = [(7.06,-1.83),(8.33,-1.48),(14.58,-2.1),(15.69,-2.0),(17.25,-1.92),(18.0,-1.45),
                    (19.0,-1.87),(20.79,-1.96),(22.83,-1.87),(23.31,-2.17)]
rate_vdis_pts = [(0.09,-3.51),(0.22,-4.0),(0.47,-3.92),(0.78,-4.1),(0.72,-4.66),(2.53,-3.35),(3.6,-4.12),
                 (4.02,-3.25),(4.63,-5.28),(5.03,-3.59),(6.29,-4.68),(6.85,-3.97),(7.81,-4.79),(7.96,-4.79),
                 (9.62,-5.28),(9.92,-4.97),(10.03,-4.97),(10.5,-4.66),(10.58,-3.64),(11.05,-4.79),(11.89,-5.28),
                 (13.57,-4.97),(13.63,-3.86),(13.65,-3.91),(13.88,-4.8),(15.76,-4.43),(16.67,-4.8),(16.87,-5.28),
                 (19.58,-5.28),(21.08,-4.49),(21.71,-3.72),(21.79,-4.06),(22.04,-4.66),(22.89,-3.9),(23.08,-3.04),
                 (23.45,-4.66),(23.48,-3.96),(23.65,-3.56),(23.9,-4.43)]
rate_met_org_pts = [(6.85,-0.64),(6.81,-1.45),(9.84,-1.52),(16.51,-1.47),(18.15,-0.9),(18.81,-1.43),
                    (23.75,-0.84),(23.77,-1.29),(22.91,-3.02)]
rate_met_tb_pts = [(3.1,1.18),(8.79,1.18),(9.71,1.18),(20.46,1.18)]

# ================= Panel 4 : weather codes =================
wx_ldis_m1 = [(1.91,61),(1.91,57),(2.14,61),(2.58,61),(2.58,57),(3.05,61),(3.05,57),(3.71,61),(3.71,57),
              (4.16,57),(4.45,61),(4.45,57),(5.37,61),(5.37,57),(7.53,57),(7.53,51),(8.37,61),(8.31,57),
              (8.37,51),(8.75,62),(8.75,58),(8.81,51),(9.09,61),(9.31,61),(9.31,57),(9.29,51),(14.58,57),
              (14.6,51),(15.64,51),(15.78,57),(15.93,57),(15.95,51),(16.17,51),(16.46,51),(16.46,57),
              (17.18,57),(17.39,57),(17.72,57),(17.97,57),(18.92,57),(18.95,51),(19.41,61),(19.43,57),
              (19.88,62),(19.9,57),(20.33,61),(20.35,57),(20.35,88),(20.5,51),(20.72,51),(20.72,57),
              (23.36,57),(23.33,51),(23.69,57),(23.75,51)]
wx_ldis_s1 = [(1.94,57),(2.16,61),(1.97,51),(2.16,51),(2.64,62),(2.6,57),(3.05,62),(3.14,57),(3.05,51),
              (3.71,61),(3.71,57),(4.19,61),(4.21,57),(4.47,57),(4.49,51),(5.43,57),(5.45,51),(7.06,51),
              (7.59,61),(7.61,57),(8.37,61),(8.37,57),(8.79,62),(8.81,57),(9.09,57),(9.29,61),(9.36,57),
              (9.31,51),(9.38,61),(14.63,57),(14.63,51),(15.67,51),(15.98,57),(16.49,57),(17.25,51),
              (17.52,61),(17.5,57),(17.75,57),(18.0,61),(18.98,57),(19.43,57),(19.93,62),(19.93,57),
              (20.44,57),(20.78,57),(22.83,51),(23.31,51),(23.38,57),(23.75,57),(23.77,51)]
wx_met_pwd = [(2.69,61),(2.74,52),(3.14,61),(3.19,51),(3.82,61),(3.88,61),(8.44,61),(8.51,51),(8.83,61),
              (8.89,51),(9.42,61),(9.45,51),(19.51,61),(20.01,61),(20.47,61),(20.63,61),(19.54,51),
              (20.01,51),(20.55,51),(2.79,10),(3.27,10),(3.93,10),(4.54,10),(4.65,10),(5.56,10),(7.09,10),
              (7.15,10),(8.97,10),(14.77,10),(19.45,10),(19.54,10),(20.1,10),(20.69,10)]
# periods reporting code 0 (1-minute reports)
wx_zero_ldis = [(0.0, 24.0)]
wx_zero_pwd = [(0.0, 20.55), (20.62, 24.0)]

# ================= Panel 5 : cumulative precip (mm) =================
cum_ldis_m1 = [(1.9,0),(2.0,0.02),(2.2,0.03),(2.6,0.03),(2.65,0.1),(3.07,0.1),(3.1,0.224),(3.75,0.224),
               (3.78,0.265),(4.2,0.265),(4.25,0.275),(4.5,0.28),(5.4,0.28),(5.45,0.288),(7.0,0.288),(7.5,0.29),
               (8.35,0.295),(8.4,0.345),(8.75,0.345),(8.8,0.577),(9.1,0.58),(9.4,0.6),(9.5,0.614),(14.6,0.617),
               (15.8,0.618),(16.3,0.62),(17.3,0.625),(17.6,0.632),(19.3,0.632),(19.45,0.665),(19.8,0.665),
               (19.95,0.788),(20.3,0.79),(20.45,0.83),(20.7,0.834),(23.3,0.836),(23.5,0.84),(24.0,0.842)]
cum_ldis_s1 = [(1.9,0),(2.0,0.01),(2.2,0.03),(2.6,0.03),(2.65,0.107),(3.05,0.107),(3.1,0.33),(3.75,0.33),
               (3.8,0.368),(4.15,0.368),(4.2,0.381),(4.45,0.381),(4.5,0.395),(5.4,0.395),(5.45,0.405),
               (7.5,0.405),(7.6,0.41),(8.35,0.41),(8.4,0.463),(8.75,0.463),(8.8,0.687),(9.1,0.69),(9.35,0.695),
               (9.45,0.705),(15.0,0.706),(16.5,0.708),(17.3,0.712),(17.5,0.716),(19.4,0.716),(19.45,0.734),
               (19.85,0.734),(19.95,0.878),(20.35,0.88),(20.45,0.904),(24.0,0.906)]
cum_vdis = [(2.1,0),(2.15,0.005),(2.6,0.005),(2.65,0.037),(3.05,0.037),(3.1,0.244),(3.75,0.244),(3.8,0.265),
            (4.2,0.265),(4.25,0.272),(5.4,0.272),(5.45,0.287),(7.0,0.287),(7.5,0.29),(7.6,0.295),(8.35,0.297),
            (8.4,0.38),(8.75,0.38),(8.8,0.63),(9.1,0.63),(9.15,0.64),(9.4,0.645),(9.5,0.655),(14.6,0.655),
            (14.65,0.66),(15.9,0.662),(16.4,0.675),(17.3,0.676),(17.5,0.695),(19.4,0.697),(19.45,0.77),
            (19.8,0.77),(19.95,0.98),(20.3,0.985),(20.45,1.13),(20.6,1.137),(23.3,1.137),(23.5,1.14),(24.0,1.143)]
cum_met_org = [(1.95,0),(1.97,0.02),(2.0,0.12),(2.05,0.16),(2.1,0.16),(2.12,0.2),(2.6,0.2),(2.63,0.4),
               (2.67,0.65),(3.1,0.65),(3.12,0.9),(3.16,1.3)]
cum_met_tb = [(0.0,0),(3.1,0),(3.1,0.255),(8.8,0.255),(8.8,0.51),(9.7,0.51),(9.7,0.768),(20.45,0.768),
              (20.45,1.023),(24.0,1.023)]
cum_met_pwd = [(0.85,0),(2.7,0),(2.75,0.042),(3.05,0.042),(3.15,0.115),(3.8,0.115),(3.85,0.157),(8.45,0.157),
               (8.5,0.188),(8.75,0.188),(8.85,0.255),(9.25,0.255),(9.35,0.277),(19.5,0.277),(19.55,0.287),
               (19.95,0.288),(20.0,0.333),(20.45,0.333),(20.55,0.355),(24.0,0.355)]
cum_pluvio = [(0.0,0),(3.1,0),(3.12,0.2),(4.45,0.2),(4.47,0.3),(4.49,0.2),(8.75,0.2),(8.8,0.6),(19.9,0.6),
              (19.95,0.8),(20.35,0.8),(20.38,0.9),(20.45,0.9),(20.5,1.0),(21.84,1.0),(21.85,0.9),(21.87,1.0),
              (21.89,0.9),(21.91,1.0),(21.94,0.9),(21.96,1.0),(21.98,0.9),(22.0,1.0),(22.03,0.9),(22.06,1.0),
              (22.1,0.9),(22.12,1.0),(22.17,0.9),(22.2,1.0),(22.26,0.9),(22.3,1.0),(22.38,0.9),(22.4,1.0),
              (22.44,0.9),(22.46,1.0),(22.66,1.0),(22.68,0.9),(22.72,1.0),(22.78,0.9),(22.82,1.0),(22.85,0.9),
              (22.9,1.0),(22.95,0.9),(23.0,1.0),(23.05,0.9),(23.1,1.0),(23.15,0.9),(23.18,1.0),(23.2,0.9),
              (23.24,1.0),(23.28,0.9),(23.3,1.0),(23.35,0.9),(23.4,1.0),(23.43,0.9),(23.46,1.0),(23.5,0.9),
              (23.53,1.0),(23.58,0.9),(23.6,1.0),(23.63,0.9),(23.66,1.0),(23.7,0.9),(23.74,1.0),(23.78,0.9),
              (23.8,1.0),(23.83,0.9),(23.86,1.0),(23.9,0.9),(23.92,1.0),(23.95,0.9),(23.98,1.0),(24.0,0.9)]
cum_pluvio_pts = [(1.35,0),(1.75,0),(2.55,0)]

# ---------------- helpers ----------------
def join(segs):
    xs, ys = [], []
    for s in segs:
        for t, v in s:
            xs.append(t); ys.append(v)
        xs.append(np.nan); ys.append(np.nan)
    return np.array(xs), np.array(ys)

def xy(pairs):
    a = np.array(pairs, dtype=float)
    return a[:, 0], a[:, 1]

TICKFS = 10.3
LEGFS = 10
YLAB_SHIFT = 0.0103

def style_axes(ax, ylim, yticks, ylabel, ylab_x, fmt=None):
    ax.set_xlim(0, 24)
    ax.set_ylim(*ylim)
    ax.set_xticks(hour_ticks)
    ax.set_yticks(yticks)
    if fmt is not None:
        ax.yaxis.set_major_formatter(FuncFormatter(fmt))
    ax.spines['top'].set_visible(False)
    for s in ('left', 'right'):
        ax.spines[s].set_color(AXBLUE); ax.spines[s].set_linewidth(0.6)
    ax.spines['bottom'].set_color(DARK); ax.spines['bottom'].set_linewidth(0.8)
    ax.tick_params(axis='x', direction='in', length=6.6, width=0.5, colors=DARK, labelsize=TICKFS, pad=7.5)
    ax.tick_params(axis='y', direction='in', length=6.6, width=0.5, colors=AXBLUE, labelsize=TICKFS, pad=7.0)
    ax.set_xlabel(XLABEL, fontsize=11.2, color=DARK)
    ax.xaxis.set_label_coords(0.5, -0.105)
    ax.set_ylabel(ylabel, fontsize=11.2, color=AXBLUE)
    ax.yaxis.set_label_coords(ylab_x + YLAB_SHIFT, 0.5)
    for a, b in night_spans:
        ax.axvspan(a, b, color=(1, 1, 0), alpha=0.15, lw=0, zorder=10)

def xmarks(ax, pts, color, zorder=4):
    t, v = xy(pts)
    ax.plot(t, v, ls='none', marker='x', ms=6, mew=1.8, color=color, zorder=zorder)

def make_legend(ax, handles, labels, x0, y0, spacing=0.43, hl=5.66):
    leg = ax.legend(handles, labels, loc='upper left', bbox_to_anchor=(x0, y0), frameon=False,
                    fontsize=LEGFS, handlelength=hl, handletextpad=0.58, labelspacing=spacing,
                    borderaxespad=0, borderpad=0, numpoints=1)
    leg.set_zorder(12)
    return leg

def H(color, lw=1.2, marker=None):
    return Line2D([], [], color=color, lw=lw, marker=marker, ms=6, mew=1.8)

fig = plt.figure(figsize=(12.75, 20), dpi=300)
W, HH, L = 0.6865, 0.1513, 0.0983
ax1 = fig.add_axes([L, 0.7993, W, HH])
ax2 = fig.add_axes([L, 0.6120, W, HH])
ax3 = fig.add_axes([L, 0.4243, W, HH])
ax4 = fig.add_axes([L, 0.2373, W, 0.15067])
ax5 = fig.add_axes([L, 0.0493, W, HH])

# ---- panel 1
for segs, c, lw in [(refl_ldis_m1, C_LM1, 1.1), (refl_ldis_s1, C_LS1, 1.1), (refl_vdis, C_VD, 1.1),
                    (refl_kzar, C_KZ, 1.3), (refl_wacr, C_WA, 2.0)]:
    t, v = join(segs)
    ax1.plot(t, v, color=c, lw=lw, zorder=3)
xmarks(ax1, refl_ldis_m1_pts, C_LM1); xmarks(ax1, refl_ldis_s1_pts, C_LS1)
xmarks(ax1, refl_vdis_pts, C_VD); xmarks(ax1, refl_kzar_pts, C_KZ); xmarks(ax1, refl_wacr_pts, C_WA)
style_axes(ax1, (-59.7, 49.6), range(-50, 41, 10), '(Near) Surface Reflectivity, dBZe', -0.0564)
make_legend(ax1, [H(C_LM1), H(C_LS1), H(C_VD, marker='x'), H(C_KZ), H(C_WA)],
            ['LDIS M1', 'LDIS S1', 'VDIS M1', 'KZAR GE mode', 'WACR'], 0.0625, 0.899)

# ---- panel 2
t, v = join(vel_kzar); ax2.plot(t, v, color=C_KZ, lw=1.3, zorder=3)
t, v = join(vel_wacr); ax2.plot(t, v, color=C_WA, lw=2.0, zorder=3)
xmarks(ax2, vel_kzar_pts, C_KZ); xmarks(ax2, vel_wacr_pts, C_WA)
style_axes(ax2, (-7.26, 6.06), range(-6, 7, 2), '(Near) Surface Doppler Velocity, m/s', -0.0453)
make_legend(ax2, [H(C_KZ), H(C_WA)], ['KZAR GE mode', 'WACR'], 0.729, 0.952)

# ---- panel 3
for segs, c in [(rate_ldis_m1, C_LM1), (rate_ldis_s1, C_LS1), (rate_vdis, C_VD), (rate_met_org, C_ORG),
                (rate_met_pwd, C_PWD)]:
    t, v = join(segs)
    ax3.plot(t, v, color=c, lw=1.1, zorder=3)
xmarks(ax3, rate_ldis_m1_pts, C_LM1); xmarks(ax3, rate_ldis_s1_pts, C_LS1); xmarks(ax3, rate_vdis_pts, C_VD)
xmarks(ax3, rate_met_org_pts, C_ORG); xmarks(ax3, rate_met_tb_pts, C_TB)
style_axes(ax3, (-5.63, 1.96), range(-5, 2, 1), 'Precip Rate, log10(mm/hr)', -0.0453)
make_legend(ax3, [H(C_LM1), H(C_LS1), H(C_VD, marker='x'), H(C_ORG), H(C_TB, marker='x'), H(C_PWD)],
            ['LDIS M1', 'LDIS S1', 'VDIS M1', 'MET ORG', 'MET TB', 'MET PWD'], 0.0415, 0.436)

# ---- panel 4
minute = np.arange(0, 24 * 60 + 1) / 60.0
def zero_times(intervals):
    m = np.zeros_like(minute, dtype=bool)
    for a, b in intervals:
        m |= (minute >= a) & (minute <= b)
    return minute[m]
tz_l = zero_times(wx_zero_ldis); tz_p = zero_times(wx_zero_pwd)
circ = dict(marker='o', s=110, facecolors=(1, 0.55, 0, 0.45), edgecolors=C_LM1, linewidths=2, clip_on=False)
diam = dict(marker='d', s=115, facecolors=(0.647, 0.165, 0.165, 0.45), edgecolors=C_LS1, linewidths=2, clip_on=False)
sqr = dict(marker='s', s=42, facecolors=(0, 0, 1, 0.8), edgecolors=C_TB, linewidths=1.5, clip_on=False)
ax4.scatter(tz_l, np.zeros_like(tz_l), zorder=3, **circ)
t, v = xy(wx_ldis_m1); ax4.scatter(t, v, zorder=3, **circ)
ax4.scatter(tz_l, np.zeros_like(tz_l), zorder=4, **dict(diam, s=80))
t, v = xy(wx_ldis_s1); ax4.scatter(t, v, zorder=4, **diam)
ax4.scatter(tz_p, np.zeros_like(tz_p), zorder=5, **sqr)
t, v = xy(wx_met_pwd); ax4.scatter(t, v, zorder=5, **sqr)
style_axes(ax4, (0, 100), range(0, 101, 20), 'Weather Codes', -0.0602)
hw = [Line2D([], [], ls='none', marker='o', ms=12, mfc=(1, 0.75, 0.5), mec=C_LM1, mew=2),
      Line2D([], [], ls='none', marker='d', ms=16.8, mfc=(0.82, 0.58, 0.58), mec=C_LS1, mew=2),
      Line2D([], [], ls='none', marker='s', ms=8.5, mfc=(0.5, 0.5, 1), mec=C_TB, mew=1.5)]
make_legend(ax4, hw, ['LDIS M1', 'LDIS S1', 'MET PWD'], 0.545, 0.922, spacing=0.47)

# ---- panel 5
for pairs, c in [(cum_ldis_m1, C_LM1), (cum_ldis_s1, C_LS1), (cum_vdis, C_VD), (cum_met_org, C_ORG),
                 (cum_met_tb, C_TB), (cum_met_pwd, C_PWD), (cum_pluvio, C_PLU)]:
    t, v = xy(pairs)
    ax5.plot(t, v, color=c, lw=1.2, zorder=3)
xmarks(ax5, cum_pluvio_pts, C_PLU)
style_axes(ax5, (-0.058, 1.198), [0, 0.2, 0.4, 0.6, 0.8, 1.0], 'Cum. Precip, mm', -0.0540,
           fmt=lambda v, p: '%g' % round(v, 2))
make_legend(ax5, [H(C_LM1), H(C_LS1), H(C_VD), H(C_ORG), H(C_TB), H(C_PWD), H(C_PLU)],
            ['LDIS M1', 'LDIS S1', 'VDIS M1', 'MET ORG', 'MET TB', 'MET PWD', 'Pluvio M1'], 0.0392, 0.96)

fig.savefig('out.png', dpi=300)
